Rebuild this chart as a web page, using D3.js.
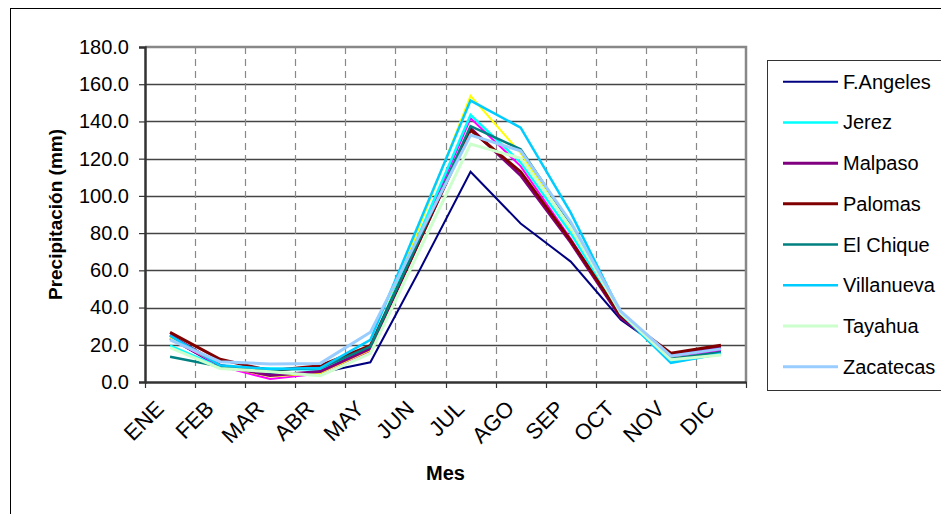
<!DOCTYPE html>
<html lang="es">
<head>
  <meta charset="UTF-8">
  <title>Precipitación mensual</title>
  <script src="https://d3js.org/d3.v7.min.js"></script>
  <style>
    body { margin: 0; background: #fff; font-family: Arial, "Liberation Sans", sans-serif; }
  </style>
</head>
<body>
  <div id="chart"></div>
  <script>
    const meses = ["ENE", "FEB", "MAR", "ABR", "MAY", "JUN", "JUL", "AGO", "SEP", "OCT", "NOV", "DIC"];
    const yTicks = [0, 20, 40, 60, 80, 100, 120, 140, 160, 180];

    // valores (mm)
    const fAngeles   = [23.5, 8.0, 4.6, 5.0, 10.6, 61.0, 113.0, 85.2, 64.7, 33.5, 14.5, 16.5];
    const serie2     = [23.4, 8.5, 1.6, 4.5, 16.5, 79.0, 141.7, 116.0, 77.0, 35.0, 13.5, 17.0];
    const serie3     = [24.0, 9.0, 2.9, 4.8, 17.2, 85.0, 153.7, 123.0, 82.0, 36.0, 12.8, 15.5];
    const jerez      = [19.5, 8.0, 7.2, 6.6, 19.0, 81.0, 143.5, 118.0, 80.0, 36.0, 10.8, 15.0];
    const malpaso    = [25.3, 9.0, 3.5, 5.6, 18.0, 77.0, 136.3, 111.0, 75.0, 34.5, 14.8, 18.7];
    const palomas    = [26.7, 12.2, 6.1, 8.8, 19.5, 77.0, 135.4, 113.0, 76.0, 35.5, 15.5, 19.8];
    const elChique   = [13.6, 8.3, 6.5, 7.5, 19.0, 78.0, 137.5, 125.0, 85.0, 36.5, 12.5, 16.0];
    const villanueva = [24.9, 9.0, 7.0, 7.5, 22.6, 87.0, 151.2, 136.7, 91.0, 37.0, 10.2, 15.2];
    const tayahua    = [18.5, 7.3, 5.5, 3.4, 15.4, 72.0, 127.9, 120.2, 83.0, 37.0, 12.0, 14.5];
    const zacatecas  = [22.6, 10.9, 9.7, 10.0, 26.7, 80.0, 132.7, 124.2, 86.0, 38.0, 14.0, 17.8];

    const series = [
      {name: "F.Angeles", values: fAngeles, color: "#000080", w: 2, legend: true},
      {name: "Serie2", values: serie2, color: "#ff00ff", w: 2, legend: false},
      {name: "Serie3", values: serie3, color: "#ffff00", w: 2, legend: false},
      {name: "Jerez", values: jerez, color: "#00ffff", w: 2.5, legend: true},
      {name: "Malpaso", values: malpaso, color: "#800080", w: 3, legend: true},
      {name: "Palomas", values: palomas, color: "#800000", w: 3, legend: true},
      {name: "El Chique", values: elChique, color: "#008080", w: 2.5, legend: true},
      {name: "Villanueva", values: villanueva, color: "#00ccff", w: 2.5, legend: true},
      {name: "Tayahua", values: tayahua, color: "#ccffcc", w: 3, legend: true},
      {name: "Zacatecas", values: zacatecas, color: "#99ccff", w: 3, legend: true}
    ];

    const W = 941, H = 514;
    const plot = {left: 145, top: 47, right: 746, bottom: 382};

    const svg = d3.select("#chart").append("svg")
      .attr("width", W).attr("height", H);

    // marco exterior
    svg.append("rect")
      .attr("x", 10.5).attr("y", 8.5)
      .attr("width", W).attr("height", H)
      .attr("fill", "none").attr("stroke", "#000").attr("stroke-width", 1);

    const x = d3.scaleBand().domain(meses).range([plot.left, plot.right]);
    const y = d3.scaleLinear().domain([0, 180]).range([plot.bottom, plot.top]);

    // rejilla horizontal
    svg.append("g").selectAll("line")
      .data(yTicks.filter(d => d > 0 && d < 180))
      .enter().append("line")
      .attr("x1", plot.left).attr("x2", plot.right)
      .attr("y1", d => Math.round(y(d)) + 0.5).attr("y2", d => Math.round(y(d)) + 0.5)
      .attr("stroke", "#444").attr("stroke-width", 1.3);

    // rejilla vertical discontinua
    svg.append("g").selectAll("line")
      .data(meses.slice(1))
      .enter().append("line")
      .attr("x1", d => Math.round(x(d)) + 0.5).attr("x2", d => Math.round(x(d)) + 0.5)
      .attr("y1", plot.top).attr("y2", plot.bottom)
      .attr("stroke", "#888").attr("stroke-width", 1.2)
      .attr("stroke-dasharray", "7,5");

    // borde del area de trazado
    svg.append("path")
      .attr("d", `M${plot.left},${plot.top}H${plot.right}V${plot.bottom}`)
      .attr("fill", "none").attr("stroke", "#888").attr("stroke-width", 2.5);

    // eje Y
    const yAxis = svg.append("g")
      .attr("transform", `translate(${plot.left},0)`)
      .call(d3.axisLeft(y).tickValues(yTicks).tickFormat(d3.format(".1f")).tickSize(6).tickPadding(10));
    yAxis.select(".domain").attr("stroke", "#333").attr("stroke-width", 2.5);
    yAxis.selectAll(".tick line").attr("stroke", "#333").attr("stroke-width", 1.2);
    yAxis.selectAll("text").attr("font-size", 20).attr("font-family", "Arial, 'Liberation Sans', sans-serif").attr("fill", "#000");

    // eje X
    const xAxis = svg.append("g")
      .attr("transform", `translate(0,${plot.bottom})`)
      .call(d3.axisBottom(x).tickSize(0).tickFormat(""));
    xAxis.select(".domain").attr("stroke", "#333").attr("stroke-width", 2.5);
    svg.append("g").selectAll("line")
      .data(meses.concat(["_fin"]))
      .enter().append("line")
      .attr("x1", (d, i) => Math.round(plot.left + i * x.bandwidth()) + 0.5)
      .attr("x2", (d, i) => Math.round(plot.left + i * x.bandwidth()) + 0.5)
      .attr("y1", plot.bottom).attr("y2", plot.bottom + 6)
      .attr("stroke", "#333").attr("stroke-width", 1.2);

    svg.append("g").selectAll("text")
      .data(meses)
      .enter().append("text")
      .attr("transform", d => `translate(${x(d) + x.bandwidth() / 2 - 5},${plot.bottom + 28}) rotate(-45)`)
      .attr("text-anchor", "end")
      .attr("font-size", 22)
      .text(d => d);

    // lineas
    const line = d3.line()
      .x((d, i) => x(meses[i]) + x.bandwidth() / 2)
      .y(d => y(d));

    svg.append("g").selectAll("path")
      .data(series)
      .enter().append("path")
      .attr("d", d => line(d.values))
      .attr("fill", "none")
      .attr("stroke", d => d.color)
      .attr("stroke-width", d => d.w)
      .attr("stroke-linejoin", "miter");

    // titulos
    svg.append("text")
      .attr("transform", `translate(62,${(plot.top + plot.bottom) / 2}) rotate(-90)`)
      .attr("text-anchor", "middle")
      .attr("font-size", 19).attr("font-weight", "bold")
      .text("Precipitación (mm)");

    svg.append("text")
      .attr("x", (plot.left + plot.right) / 2).attr("y", 480)
      .attr("text-anchor", "middle")
      .attr("font-size", 20).attr("font-weight", "bold")
      .text("Mes");

    // leyenda
    const leg = svg.append("g");
    leg.append("rect")
      .attr("x", 767.5).attr("y", 60.5)
      .attr("width", 200).attr("height", 330)
      .attr("fill", "#fff").attr("stroke", "#333").attr("stroke-width", 1);

    const items = series.filter(s => s.legend);
    const ly = d3.scalePoint().domain(items.map(s => s.name)).range([81.7, 366.7]);

    const row = leg.selectAll("g.item")
      .data(items)
      .enter().append("g")
      .attr("class", "item")
      .attr("transform", d => `translate(0,${ly(d.name)})`);
    row.append("line")
      .attr("x1", 783).attr("x2", 838)
      .attr("stroke", d => d.color).attr("stroke-width", d => d.w);
    row.append("text")
      .attr("x", 843).attr("dy", "0.35em")
      .attr("font-size", 20)
      .text(d => d.name);
  </script>
</body>
</html>
